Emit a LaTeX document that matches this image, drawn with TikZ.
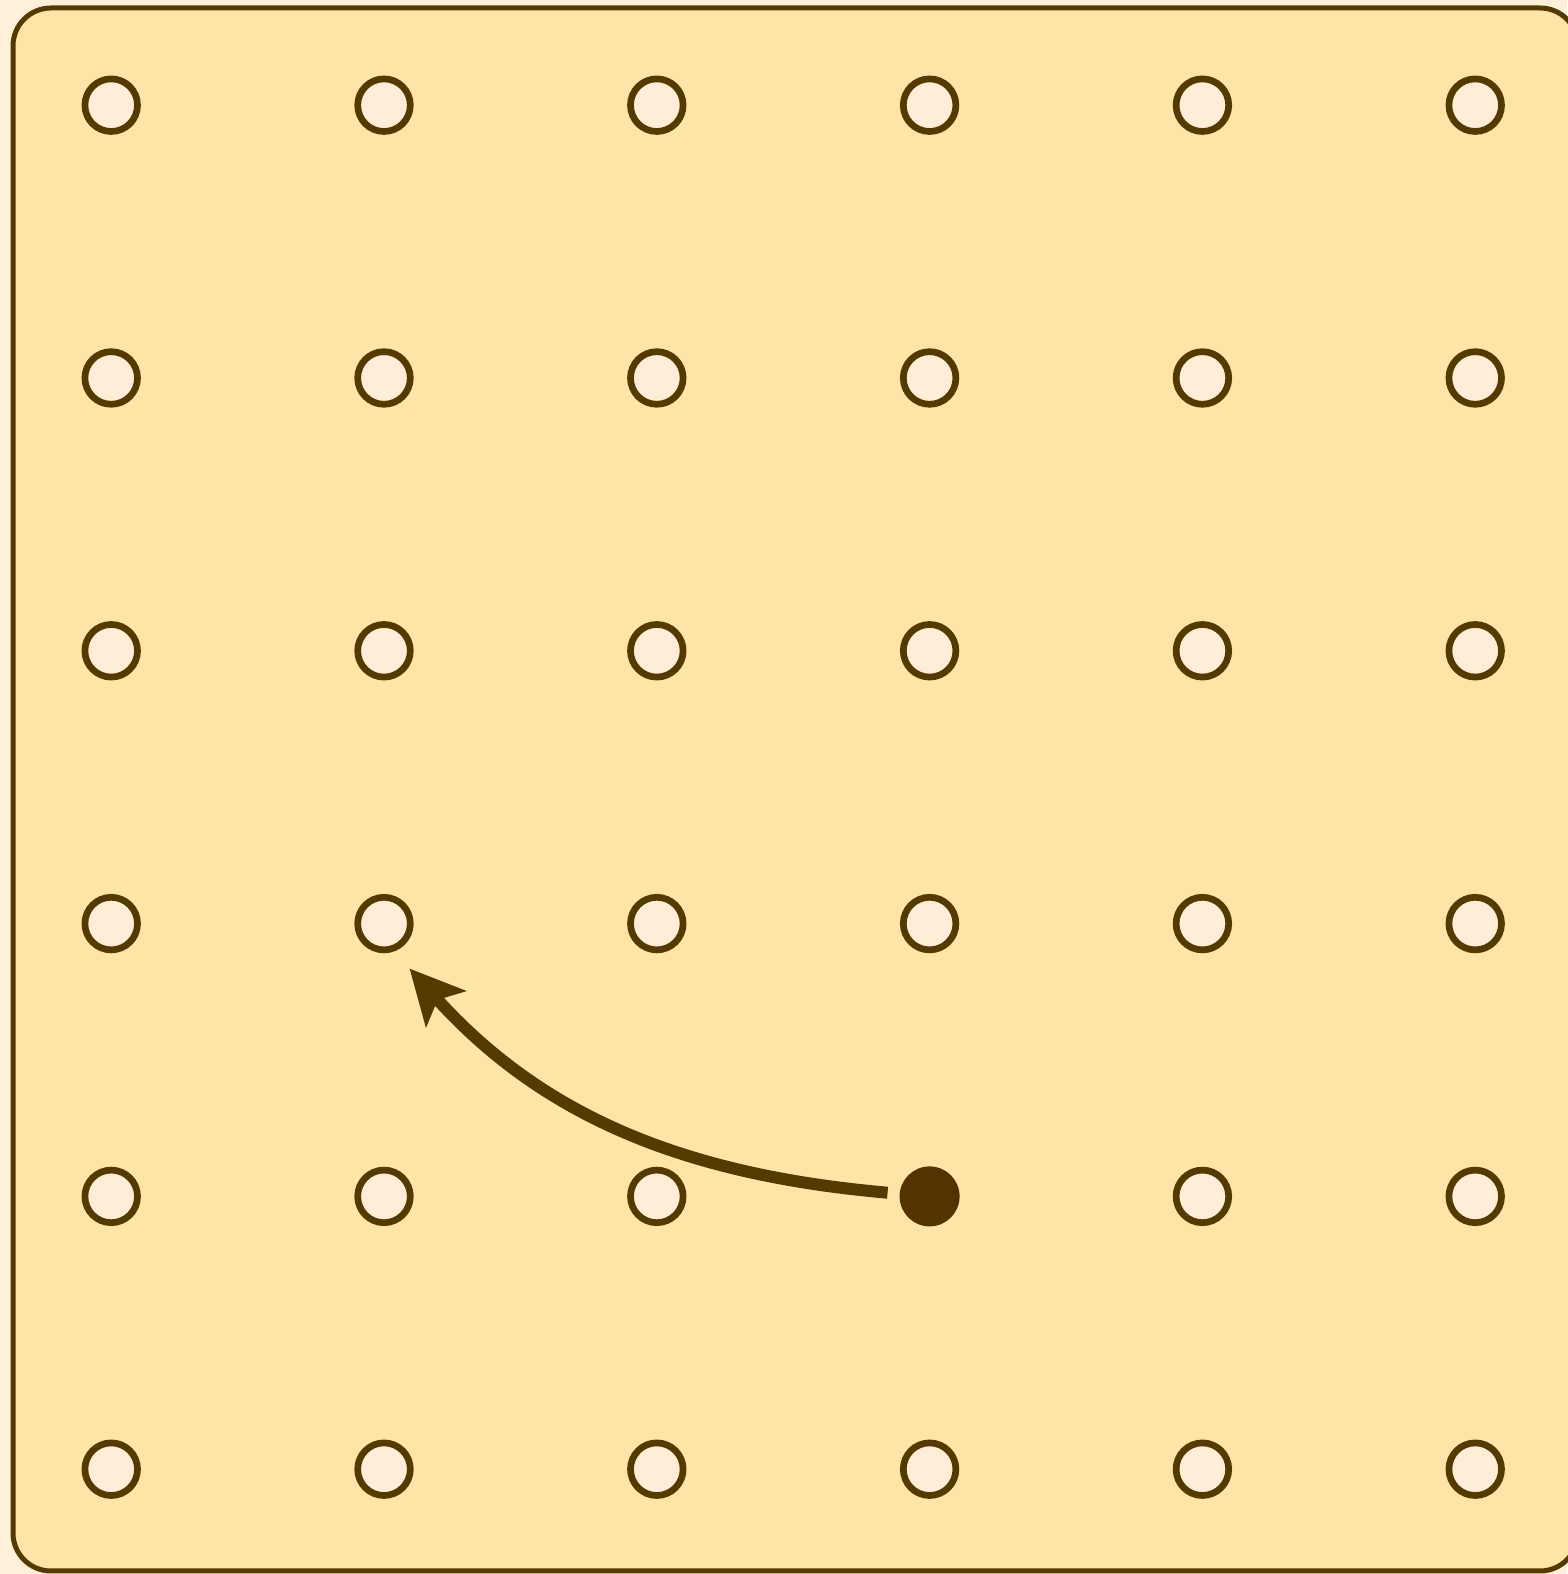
\documentclass[tikz,border=0pt]{standalone}
\usetikzlibrary{arrows.meta}
\definecolor{bgc}{HTML}{FFF0DA}
\definecolor{boardc}{HTML}{FFE4A8}
\definecolor{inkc}{HTML}{553A00}
\definecolor{dotc}{HTML}{553300}
\definecolor{holec}{HTML}{FFEDD8}
\begin{document}
\begin{tikzpicture}[x=1pt,y=1pt,
  hole/.style={circle,draw=inkc,fill=holec,line width=6.7pt,minimum size=52.6pt,inner sep=0pt},
  peg/.style={circle,fill=dotc,minimum size=60pt,inner sep=0pt},
  move/.style={draw=inkc,line width=12pt,-{Stealth[length=54pt,width=53pt,inset=12pt]}},
  board/.style={draw=inkc,fill=boardc,line width=5pt,rounded corners=38pt}]
\fill[bgc] (0,0) rectangle (1567,1574);
\useasboundingbox (0,0) rectangle (1567,1574);
\path[board] (13,3) rectangle (1578,1566);
\foreach \c in {0,...,5}{
  \foreach \r in {0,...,5}{
    \pgfmathtruncatemacro\isp{(\c==3)&&(\r==4)}
    \ifnum\isp=0
      \node[hole] (h-\c-\r) at ({111.2+272.8*\c},{1468.8-272.8*\r}) {};
    \fi
  }
}
\node[peg] (p) at (929.6,377.6) {};
\draw[move,shorten <=12pt,shorten >=23pt] (p) to[out=175,in=-48] (h-1-3.-70);
\end{tikzpicture}
\end{document}
